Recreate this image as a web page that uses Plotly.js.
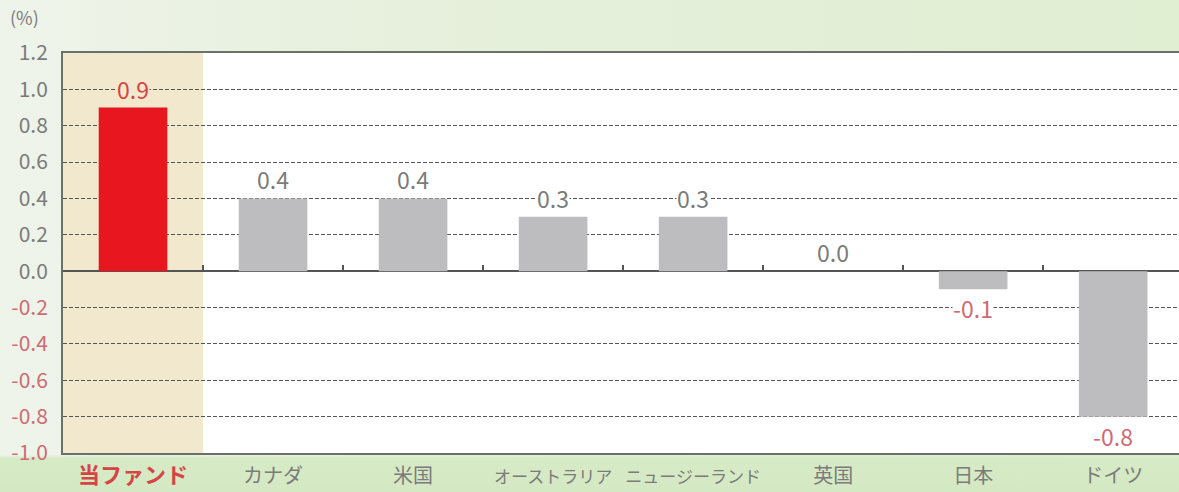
<!DOCTYPE html>
<html>
<head>
<meta charset="utf-8">
<script src="https://cdn.plot.ly/plotly-3.0.1.min.js"></script>
<style>
  html, body { margin: 0; padding: 0; }
  body {
    width: 1179px; height: 492px; overflow: hidden;
    background:
      linear-gradient(to bottom, rgba(255,255,255,0) 0px, rgba(255,255,255,0) 455px, #d7eac6 458px, #d4e9c3 492px),
      linear-gradient(to right, #eef4ea 0px, #e6f0dc 400px, #e0eed2 1179px);
  }
  #chart { width: 1179px; height: 492px; }
</style>
</head>
<body>
<div id="chart"></div>
<script>
const categories = ["当ファンド", "カナダ", "米国", "オーストラリア", "ニュージーランド", "英国", "日本", "ドイツ"];
const values = [0.9, 0.4, 0.4, 0.3, 0.3, 0.0, -0.1, -0.8];
const valueLabels = ["0.9", "0.4", "0.4", "0.3", "0.3", "0.0", "-0.1", "-0.8"];
const yTickVals = [1.2, 1.0, 0.8, 0.6, 0.4, 0.2, 0.0, -0.2, -0.4, -0.6, -0.8, -1.0];
const yTickText = ["1.2", "1.0", "0.8", "0.6", "0.4", "0.2", "0.0", "-0.2", "-0.4", "-0.6", "-0.8", "-1.0"];

const RED = "#e8171f";
const GRAY_BAR = "#bdbdbf";
const TEXT_GRAY = "#7b7b7b";
const TEXT_RED = "#d64545";
const NEG_RED = "#cf6b72";
const BEIGE = "#f1e8cd";

const barColors = values.map((v, i) => i === 0 ? RED : GRAY_BAR);

// long katakana labels are set a little smaller so they do not collide
const xTickText = categories.map((c, i) => {
  if (i === 0) return `<b><span style="color:${TEXT_RED};font-size:22px">${c}</span></b>`;
  if (c.length >= 7) return `<span style="font-size:17px">${c}</span>`;
  return c;
});

const yTickTextStyled = yTickVals.map((v, i) =>
  v < 0 ? `<span style="color:${NEG_RED}">${yTickText[i]}</span>` : yTickText[i]);

// a label gets a background only where a grid line runs through it
function crossesGrid(v) {
  const c = v + (v < 0 ? -0.085 : 0.085);
  const r = Math.round(c / 0.2) * 0.2;
  return Math.abs(c - r) < 0.05;
}

const annotations = values.map((v, i) => ({
  x: categories[i], y: v, xref: "x", yref: "y",
  text: valueLabels[i],
  showarrow: false,
  yanchor: v < 0 ? "top" : "bottom",
  yshift: v < 0 ? -1 : 1,
  font: { size: 23, color: i === 0 ? TEXT_RED : (v < 0 ? NEG_RED : TEXT_GRAY), family: "Noto Sans CJK JP, Open Sans, sans-serif" },
  bgcolor: crossesGrid(v) ? (i === 0 ? BEIGE : "#ffffff") : "rgba(0,0,0,0)",
  borderpad: 0
}));
annotations.push({
  xref: "paper", yref: "paper", x: 0, y: 1,
  xanchor: "left", yanchor: "bottom", xshift: -55, yshift: 21,
  text: "(%)", showarrow: false,
  font: { size: 18, color: TEXT_GRAY, family: "Noto Sans CJK JP, sans-serif" }
});

const xRange = [-0.5, categories.length - 0.53];

const data = [
  {
    type: "bar", x: categories, y: values,
    marker: { color: barColors, line: { width: 0 } },
    width: 0.49, hoverinfo: "skip", showlegend: false
  },
  {
    type: "scatter", mode: "none", x: categories, y: values,
    xaxis: "x2", yaxis: "y", hoverinfo: "skip", showlegend: false
  }
];

const layout = {
  width: 1179, height: 492,
  margin: { l: 63, r: 0, t: 53, b: 39 },
  paper_bgcolor: "rgba(0,0,0,0)",
  plot_bgcolor: "#ffffff",
  font: { family: "Noto Sans CJK JP, Open Sans, sans-serif", color: TEXT_GRAY },
  xaxis: {
    type: "category", range: xRange,
    tickvals: categories, ticktext: xTickText, tickangle: 0, automargin: false,
    tickfont: { size: 20, color: TEXT_GRAY },
    ticks: "", showgrid: false, zeroline: false,
    showline: true, linecolor: "#6b7068", linewidth: 2, mirror: true,
    ticklabelstandoff: 4
  },
  xaxis2: {
    type: "category", range: xRange, overlaying: "x", anchor: "free",
    position: 1.0 / 2.2, side: "bottom",
    tickvals: [0.5, 1.5, 2.5, 3.5, 4.5, 5.5, 6.5],
    ticks: "inside", ticklen: 6, tickwidth: 1.5, tickcolor: "#555",
    showticklabels: false, showgrid: false, zeroline: false, showline: false
  },
  yaxis: {
    range: [-1.0, 1.2], automargin: false,
    tickvals: yTickVals, ticktext: yTickTextStyled,
    tickfont: { size: 21, color: TEXT_GRAY },
    ticks: "", ticklabelstandoff: 9,
    showgrid: true, gridcolor: "#555555", gridwidth: 1, griddash: "4px,2px",
    zeroline: true, zerolinecolor: "#555555", zerolinewidth: 1.5,
    showline: true, linecolor: "#6b7068", linewidth: 2
  },
  shapes: [{
    type: "rect", xref: "x", yref: "paper", x0: -0.5, x1: 0.5, y0: 0, y1: 1,
    fillcolor: BEIGE, line: { width: 0 }, layer: "below"
  }],
  annotations: annotations,
  bargap: 0.5
};

Plotly.newPlot("chart", data, layout, { displayModeBar: false, staticPlot: true });
</script>
</body>
</html>
